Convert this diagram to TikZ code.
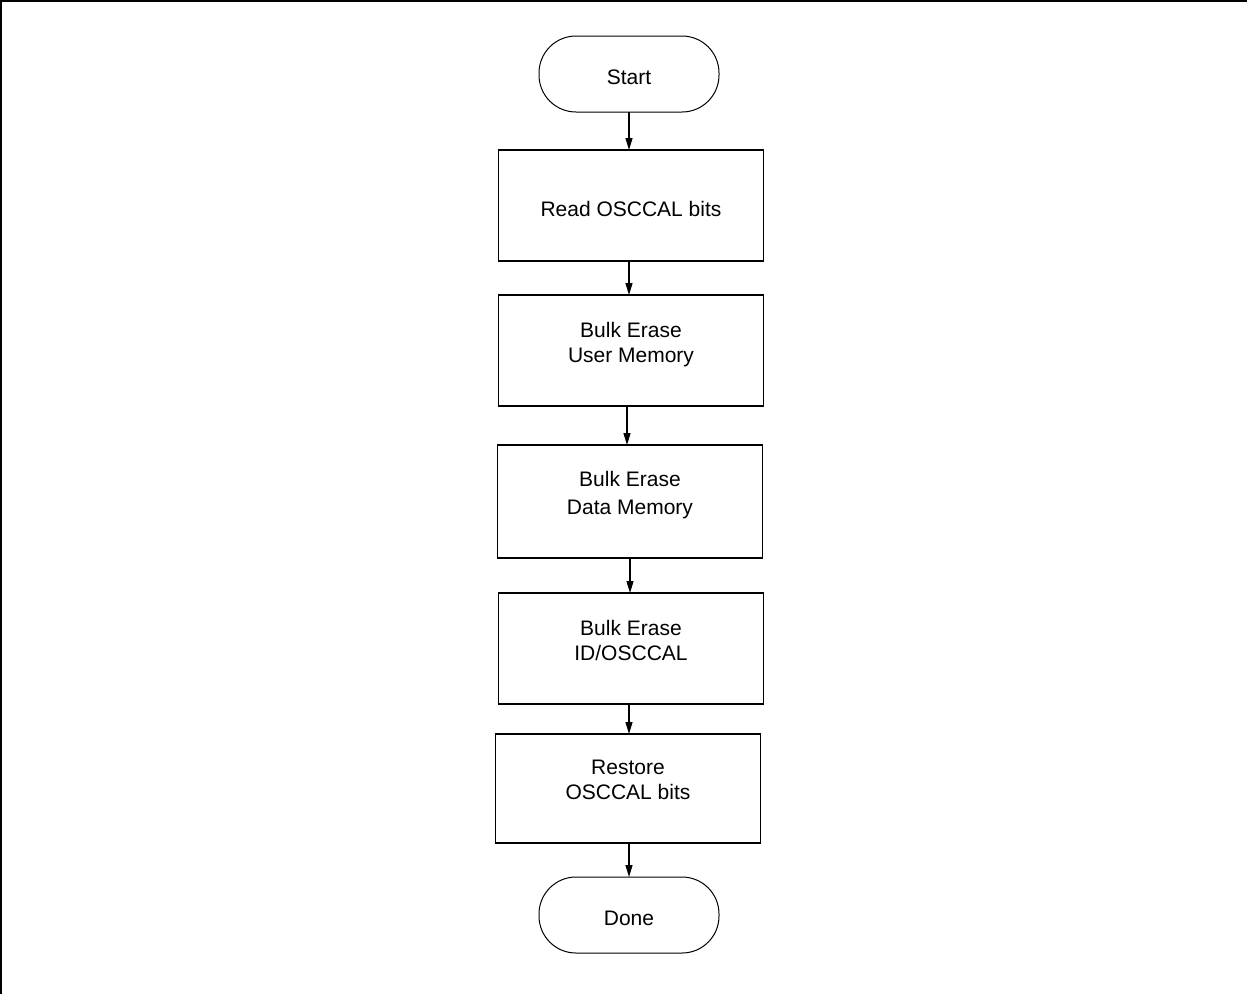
\documentclass[tikz,border=0pt]{standalone}
\usepackage{fontspec}
\setmainfont{Liberation Sans}
\usepackage{tikz}
\usetikzlibrary{arrows.meta, positioning}

\begin{document}
\begin{tikzpicture}[
    x=1pt, y=1pt,
    term/.style={rectangle, rounded corners=37pt, draw, line width=1pt, outer sep=0pt,
                 minimum width=180pt, minimum height=76pt, text height=22pt,
                 font=\fontsize{21}{25}\selectfont},
    stepbox/.style={rectangle, draw, line width=1.5pt, inner sep=0pt, outer sep=0pt,
                    minimum width=265pt, minimum height=111pt, align=center,
                    font=\fontsize{21}{25}\selectfont},
    twoline/.style={text depth=17pt},
    arr/.style={-{Triangle[length=12pt, width=7pt]}, line width=1.3pt}
]
\useasboundingbox (0,0) rectangle (1247,-994);
\draw[line width=2pt] (1,-994) -- (1,-1) -- (1247,-1);

\node[term] (start) at (629,-74) {Start};
\node[stepbox, below=38pt of start, xshift=2pt, text height=22pt] (readosc) {Read OSCCAL bits};
\node[stepbox, twoline, below=34pt of readosc] (eraseuser) {Bulk Erase\\User Memory};
\node[stepbox, twoline, below=39pt of eraseuser, xshift=-1pt, minimum height=113pt] (erasedata) {Bulk Erase\\[3pt]Data Memory};
\node[stepbox, twoline, below=35pt of erasedata, xshift=1pt] (eraseid) {Bulk Erase\\ID/OSCCAL};
\node[stepbox, twoline, below=30pt of eraseid, xshift=-3pt, minimum height=109pt] (restore) {Restore\\OSCCAL bits};
\node[term, below=34pt of restore, xshift=1pt] (done) {Done};

\draw[arr] (start) -- (start |- readosc.north);
\draw[arr] (start |- readosc.south) -- (start |- eraseuser.north);
\draw[arr] ([xshift=-2pt]start.south |- eraseuser.south) -- ([xshift=-2pt]start.south |- erasedata.north);
\draw[arr] ([xshift=1pt]start.south |- erasedata.south) -- ([xshift=1pt]start.south |- eraseid.north);
\draw[arr] (start |- eraseid.south) -- (start |- restore.north);
\draw[arr] (done |- restore.south) -- (done);
\end{tikzpicture}
\end{document}
